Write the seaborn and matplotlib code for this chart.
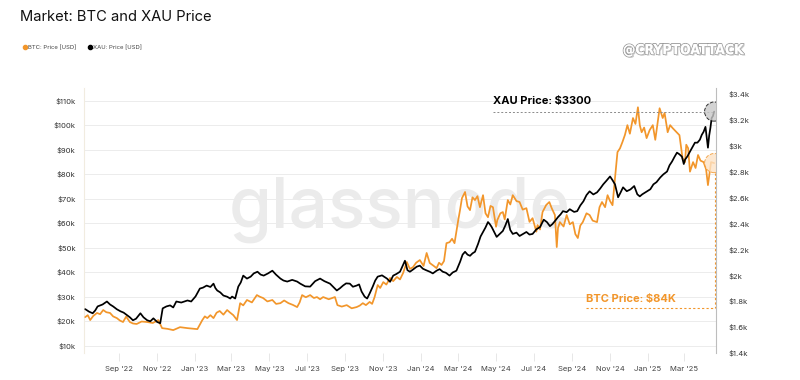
import pandas as pd
import matplotlib.pyplot as plt
import matplotlib.dates as mdates
import matplotlib.patheffects as pe
import seaborn as sns
from matplotlib.lines import Line2D

# ---- data (BTC in $k, XAU in $) ----
btc_dates = [
    "2022-07-08", "2022-07-12", "2022-07-16", "2022-07-21", "2022-07-27", "2022-08-01", "2022-08-06",
    "2022-08-11", "2022-08-17", "2022-08-22", "2022-08-28", "2022-09-02", "2022-09-07", "2022-09-12",
    "2022-09-18", "2022-09-23", "2022-09-29", "2022-10-07", "2022-10-16", "2022-10-25", "2022-11-03",
    "2022-11-09", "2022-11-18", "2022-11-27", "2022-12-08", "2022-12-20", "2022-12-28", "2023-01-05",
    "2023-01-13", "2023-01-17", "2023-01-21", "2023-01-26", "2023-01-31", "2023-02-05", "2023-02-10",
    "2023-02-16", "2023-02-22", "2023-02-27", "2023-03-04", "2023-03-10", "2023-03-15", "2023-03-20",
    "2023-03-26", "2023-04-03", "2023-04-11", "2023-04-16", "2023-04-21", "2023-04-28", "2023-05-06",
    "2023-05-12", "2023-05-19", "2023-05-25", "2023-06-01", "2023-06-08", "2023-06-15", "2023-06-19",
    "2023-06-23", "2023-06-29", "2023-07-06", "2023-07-12", "2023-07-17", "2023-07-22", "2023-07-27",
    "2023-08-05", "2023-08-15", "2023-08-19", "2023-08-26", "2023-09-03", "2023-09-11", "2023-09-19",
    "2023-09-24", "2023-09-29", "2023-10-04", "2023-10-10", "2023-10-14", "2023-10-18", "2023-10-23",
    "2023-10-27", "2023-11-01", "2023-11-06", "2023-11-12", "2023-11-17", "2023-11-23", "2023-11-28",
    "2023-12-03", "2023-12-09", "2023-12-14", "2023-12-19", "2023-12-24", "2023-12-30", "2024-01-05",
    "2024-01-10", "2024-01-15", "2024-01-21", "2024-01-26", "2024-01-30", "2024-02-03", "2024-02-07",
    "2024-02-11", "2024-02-16", "2024-02-20", "2024-02-24", "2024-03-01", "2024-03-04", "2024-03-07",
    "2024-03-12", "2024-03-16", "2024-03-20", "2024-03-24", "2024-03-28", "2024-04-01", "2024-04-05",
    "2024-04-10", "2024-04-14", "2024-04-18", "2024-04-22", "2024-04-26", "2024-05-01", "2024-05-03",
    "2024-05-08", "2024-05-12", "2024-05-15", "2024-05-20", "2024-05-24", "2024-05-28", "2024-06-03",
    "2024-06-08", "2024-06-13", "2024-06-19", "2024-06-24", "2024-06-29", "2024-07-05", "2024-07-07",
    "2024-07-11", "2024-07-15", "2024-07-21", "2024-07-26", "2024-07-30", "2024-08-04", "2024-08-07",
    "2024-08-09", "2024-08-12", "2024-08-18", "2024-08-23", "2024-08-28", "2024-09-02", "2024-09-06",
    "2024-09-10", "2024-09-14", "2024-09-18", "2024-09-24", "2024-09-29", "2024-10-04", "2024-10-11",
    "2024-10-15", "2024-10-19", "2024-10-24", "2024-10-28", "2024-11-01", "2024-11-05", "2024-11-09",
    "2024-11-13", "2024-11-17", "2024-11-21", "2024-11-25", "2024-11-29", "2024-12-03", "2024-12-08",
    "2024-12-12", "2024-12-16", "2024-12-19", "2024-12-22", "2024-12-26", "2024-12-30", "2025-01-04",
    "2025-01-09", "2025-01-13", "2025-01-20", "2025-01-25", "2025-01-28", "2025-02-02", "2025-02-06",
    "2025-02-10", "2025-02-15", "2025-02-21", "2025-02-26", "2025-03-02", "2025-03-04", "2025-03-07",
    "2025-03-10", "2025-03-15", "2025-03-19", "2025-03-23", "2025-03-27", "2025-04-01", "2025-04-05",
    "2025-04-08", "2025-04-13", "2025-04-18"]
btc_price_k = [
    21.6, 22.4, 20.4, 22.1, 23.3, 22.8, 24.5,
    23.6, 23.3, 21.9, 21.2, 20.2, 19.6, 21.8,
    19.6, 19.0, 18.8, 19.8, 19.6, 19.2, 20.4,
    17.1, 16.8, 16.3, 17.5, 17.1, 16.9, 16.7,
    20.4, 21.9, 21.2, 22.4, 21.2, 23.4, 24.1,
    22.6, 24.5, 23.4, 22.4, 20.4, 27.3, 26.4,
    28.6, 27.6, 30.6, 29.9, 29.4, 28.0, 28.6,
    27.0, 27.3, 28.4, 27.3, 26.6, 25.7, 27.6,
    30.6, 29.7, 30.6, 29.4, 29.8, 28.9, 29.8,
    28.9, 29.8, 26.5, 25.9, 26.5, 25.2, 25.7,
    26.3, 27.3, 26.5, 27.8, 27.0, 29.8, 34.7,
    33.5, 35.9, 34.9, 37.6, 36.3, 38.0, 37.0,
    39.6, 44.1, 41.3, 42.0, 43.8, 44.9, 42.5,
    47.8, 43.7, 42.6, 41.6, 43.8, 42.9, 44.5,
    51.8, 52.2, 53.6, 51.8, 61.2, 65.5, 70.2,
    72.7, 66.8, 65.3, 70.5, 69.4, 71.0, 66.5,
    71.4, 64.0, 62.4, 67.0, 66.5, 58.5, 61.2,
    64.0, 64.5, 61.5, 69.4, 67.6, 71.4, 69.0,
    68.6, 65.5, 66.1, 60.5, 62.0, 56.5, 59.2,
    57.4, 64.5, 67.4, 68.6, 66.0, 63.3, 50.2,
    58.0, 60.4, 58.6, 63.3, 59.5, 60.4, 55.5,
    53.9, 59.0, 60.4, 64.0, 63.3, 61.0, 60.4,
    66.5, 68.6, 66.5, 71.4, 69.0, 67.3, 78.4,
    89.0, 90.5, 93.1, 96.0, 100.0, 96.5, 102.9,
    100.5, 107.3, 100.0, 97.1, 99.0, 94.7, 98.0,
    100.0, 94.0, 106.9, 102.9, 105.0, 97.1, 100.0,
    98.8, 97.5, 95.9, 86.5, 84.9, 92.0, 90.6,
    81.0, 84.9, 82.5, 87.8, 85.5, 84.9, 82.0,
    75.5, 84.9, 84.5]

xau_dates = [
    "2022-07-08", "2022-07-14", "2022-07-20", "2022-07-24", "2022-07-28", "2022-08-05", "2022-08-12",
    "2022-08-17", "2022-08-22", "2022-08-28", "2022-09-03", "2022-09-08", "2022-09-14", "2022-09-18",
    "2022-09-23", "2022-09-28", "2022-10-05", "2022-10-10", "2022-10-16", "2022-10-21", "2022-10-26",
    "2022-11-01", "2022-11-06", "2022-11-10", "2022-11-16", "2022-11-22", "2022-11-27", "2022-12-02",
    "2022-12-10", "2022-12-20", "2022-12-26", "2023-01-02", "2023-01-09", "2023-01-14", "2023-01-20",
    "2023-01-26", "2023-01-31", "2023-02-03", "2023-02-06", "2023-02-11", "2023-02-16", "2023-02-22",
    "2023-02-27", "2023-03-02", "2023-03-07", "2023-03-12", "2023-03-16", "2023-03-20", "2023-03-26",
    "2023-04-01", "2023-04-06", "2023-04-12", "2023-04-17", "2023-04-22", "2023-04-29", "2023-05-06",
    "2023-05-12", "2023-05-19", "2023-05-24", "2023-05-30", "2023-06-07", "2023-06-15", "2023-06-20",
    "2023-06-28", "2023-07-06", "2023-07-14", "2023-07-22", "2023-07-29", "2023-08-07", "2023-08-12",
    "2023-08-18", "2023-08-23", "2023-08-28", "2023-09-02", "2023-09-08", "2023-09-13", "2023-09-19",
    "2023-09-23", "2023-09-27", "2023-10-02", "2023-10-06", "2023-10-10", "2023-10-15", "2023-10-19",
    "2023-10-23", "2023-10-30", "2023-11-07", "2023-11-12", "2023-11-17", "2023-11-22", "2023-11-28",
    "2023-12-02", "2023-12-06", "2023-12-10", "2023-12-14", "2023-12-19", "2023-12-25", "2023-12-30",
    "2024-01-04", "2024-01-09", "2024-01-15", "2024-01-20", "2024-01-26", "2024-01-31", "2024-02-05",
    "2024-02-10", "2024-02-16", "2024-02-21", "2024-02-27", "2024-03-04", "2024-03-08", "2024-03-12",
    "2024-03-16", "2024-03-20", "2024-03-24", "2024-03-28", "2024-04-02", "2024-04-06", "2024-04-10",
    "2024-04-14", "2024-04-18", "2024-04-21", "2024-04-24", "2024-04-28", "2024-05-02", "2024-05-07",
    "2024-05-12", "2024-05-16", "2024-05-20", "2024-05-24", "2024-05-28", "2024-06-03", "2024-06-08",
    "2024-06-13", "2024-06-19", "2024-06-24", "2024-06-29", "2024-07-05", "2024-07-11", "2024-07-17",
    "2024-07-22", "2024-07-27", "2024-07-31", "2024-08-05", "2024-08-09", "2024-08-13", "2024-08-17",
    "2024-08-23", "2024-08-28", "2024-09-04", "2024-09-09", "2024-09-14", "2024-09-19", "2024-09-24",
    "2024-09-29", "2024-10-05", "2024-10-11", "2024-10-16", "2024-10-21", "2024-10-26", "2024-11-01",
    "2024-11-05", "2024-11-09", "2024-11-14", "2024-11-18", "2024-11-22", "2024-11-28", "2024-12-04",
    "2024-12-10", "2024-12-15", "2024-12-19", "2024-12-23", "2024-12-27", "2024-12-31", "2025-01-05",
    "2025-01-10", "2025-01-15", "2025-01-21", "2025-01-26", "2025-02-01", "2025-02-05", "2025-02-09",
    "2025-02-13", "2025-02-17", "2025-02-21", "2025-02-25", "2025-02-28", "2025-03-02", "2025-03-06",
    "2025-03-10", "2025-03-14", "2025-03-18", "2025-03-22", "2025-03-26", "2025-03-29", "2025-04-01",
    "2025-04-04", "2025-04-08", "2025-04-10", "2025-04-12", "2025-04-14", "2025-04-16", "2025-04-18"]
xau_price = [
    1739, 1720, 1707, 1728, 1760, 1775, 1798,
    1775, 1760, 1738, 1722, 1712, 1691, 1676,
    1653, 1665, 1707, 1676, 1653, 1645, 1668,
    1640, 1630, 1745, 1760, 1768, 1752, 1798,
    1790, 1806, 1798, 1837, 1898, 1905, 1921,
    1910, 1936, 1902, 1883, 1868, 1844, 1835,
    1821, 1836, 1821, 1913, 1945, 1998, 1975,
    1990, 2015, 2028, 2006, 1998, 2015, 2036,
    2005, 1975, 1960, 1952, 1965, 1952, 1936,
    1915, 1913, 1955, 1975, 1955, 1936, 1912,
    1883, 1900, 1921, 1938, 1936, 1912, 1921,
    1930, 1875, 1835, 1821, 1860, 1913, 1960,
    1990, 2000, 1975, 1950, 1998, 2010, 2028,
    2070, 2113, 2040, 2028, 2045, 2067, 2075,
    2051, 2040, 2028, 2015, 2036, 2048, 2028,
    2020, 1998, 2022, 2036, 2105, 2160, 2182,
    2160, 2151, 2170, 2182, 2243, 2300, 2335,
    2370, 2412, 2395, 2373, 2335, 2297, 2320,
    2343, 2385, 2435, 2350, 2320, 2330, 2304,
    2318, 2335, 2315, 2320, 2355, 2373, 2430,
    2412, 2380, 2396, 2425, 2450, 2470, 2496,
    2488, 2511, 2490, 2496, 2540, 2572, 2620,
    2649, 2625, 2641, 2670, 2703, 2730, 2764,
    2735, 2703, 2603, 2640, 2680, 2650, 2664,
    2690, 2626, 2610, 2626, 2638, 2649, 2665,
    2703, 2720, 2756, 2780, 2802, 2850, 2879,
    2915, 2948, 2935, 2917, 2860, 2894, 2920,
    2956, 2990, 3025, 3025, 3048, 3085, 3109,
    3147, 2986, 3080, 3140, 3216, 3230, 3265]

btc_df = pd.DataFrame({"date": pd.to_datetime(btc_dates), "price": [v * 1000 for v in btc_price_k]})
xau_df = pd.DataFrame({"date": pd.to_datetime(xau_dates), "price": xau_price})

btc_color = "#f2962b"
sns.set_style("white")
plt.rcParams["font.family"] = ["Inter", "DejaVu Sans"]

fig = plt.figure(figsize=(8, 3.8), dpi=100)
ax = fig.add_axes([0.105, 0.071, 0.79, 0.697])
ax2 = ax.twinx()

# glassnode watermark behind the lines
ax.text(0.5, 0.54, "glassnode", transform=ax.transAxes, ha="center", va="center",
        fontsize=50, color="#ebebeb", fontweight="medium", zorder=0)

sns.lineplot(data=btc_df, x="date", y="price", ax=ax, color=btc_color, linewidth=1.25, zorder=3)
sns.lineplot(data=xau_df, x="date", y="price", ax=ax2, color="black", linewidth=1.25, zorder=3)

ax.set_xlim(pd.Timestamp("2022-07-06"), pd.Timestamp("2025-04-21"))
ax.set_ylim(6940, 115100)
ax2.set_ylim(1415, 3446)

ax.set_yticks([v * 1000 for v in range(10, 111, 10)])
ax.set_yticklabels([f"${v}k" for v in range(10, 111, 10)])
right_ticks = [1400, 1600, 1800, 2000, 2200, 2400, 2600, 2800, 3000, 3200, 3400]
ax2.set_yticks(right_ticks)
ax2.set_yticklabels([f"${v / 1000:g}k" for v in right_ticks])

ax.xaxis.set_major_locator(mdates.MonthLocator(bymonth=[1, 3, 5, 7, 9, 11]))
ax.xaxis.set_major_formatter(mdates.DateFormatter("%b '%y"))
ax.set_xticks([t for t in ax.get_xticks() if t >= mdates.date2num(pd.Timestamp("2022-09-01"))])

ax.grid(axis="y", color="#ececec", linewidth=0.7)
ax.set_axisbelow(True)
for a in (ax, ax2):
    a.set_xlabel("")
    a.set_ylabel("")
    for s in a.spines.values():
        s.set_visible(False)
ax.spines["left"].set_visible(True)
ax.spines["left"].set_color("#f1ece0")
ax2.spines["right"].set_visible(True)
ax2.spines["right"].set_color("#bdbdbd")
ax2.spines["right"].set_linewidth(0.8)

ax.tick_params(axis="y", length=0, labelsize=5.5, labelcolor="#333333", pad=6)
ax2.tick_params(axis="y", length=0, labelsize=5.5, labelcolor="#333333", pad=9)
ax.tick_params(axis="x", length=6, width=0.6, color="#e3e3e3", labelsize=5.5,
               labelcolor="#444444", pad=3, bottom=True, direction="out")

# XAU annotation
last_x, last_v = xau_df["date"].iloc[-1], xau_df["price"].iloc[-1]
ax2.plot([pd.Timestamp("2024-04-26"), last_x], [last_v, last_v], ls=(0, (2, 2)),
         color="#8a8a8a", lw=0.7, zorder=2)
ax2.scatter([last_x], [last_v], s=190, facecolor="#c9c9c9", edgecolor="black",
            linewidths=0.7, linestyle="--", alpha=0.8, zorder=4)
ax2.text(pd.Timestamp("2024-04-26"), last_v + 45, "XAU Price: $3300", fontsize=8,
         fontweight="bold", color="black", va="bottom", ha="left")

# BTC annotation
b_x, b_v = btc_df["date"].iloc[-1], btc_df["price"].iloc[-1]
ax.scatter([b_x], [b_v], s=190, facecolor="#fde3c6", edgecolor=btc_color,
           linewidths=0.7, linestyle="--", alpha=0.8, zorder=4)
ax.plot([pd.Timestamp("2025-04-19"), pd.Timestamp("2025-04-19")], [b_v - 4000, 25300],
        ls=(0, (2, 2)), color=btc_color, lw=0.8, zorder=2)
ax.plot([pd.Timestamp("2024-09-23"), pd.Timestamp("2025-04-19")], [25300, 25300],
        ls=(0, (2, 2)), color=btc_color, lw=0.8, zorder=2)
ax.text(pd.Timestamp("2024-09-23"), 27000, "BTC Price: $84K", fontsize=8,
        fontweight="bold", color=btc_color, va="bottom", ha="left")

# title, legend, handle
fig.text(0.025, 0.955, "Market: BTC and XAU Price", fontsize=10.6, color="#111111", va="center")
handles = [Line2D([], [], marker="o", ls="", color=btc_color, markersize=3),
           Line2D([], [], marker="o", ls="", color="black", markersize=3)]
fig.legend(handles, ["BTC: Price [USD]", "XAU: Price [USD]"], loc="center left",
           bbox_to_anchor=(0.022, 0.874), ncol=2, frameon=False, fontsize=4.3,
           handlelength=0.6, handletextpad=0.3, columnspacing=1.9, labelcolor="#444444")
fig.text(0.854, 0.868, "@CRYPTOATTACK", fontsize=10, fontweight="bold", color="white",
         ha="center", va="center", family="DejaVu Sans", fontstretch="condensed",
         path_effects=[pe.withStroke(linewidth=1.3, foreground="#9a9a9a"),
                       pe.SimplePatchShadow(offset=(1, -1), shadow_rgbFace="#bbbbbb", alpha=0.8),
                       pe.Normal()])

fig.savefig("out.png", dpi=100)
